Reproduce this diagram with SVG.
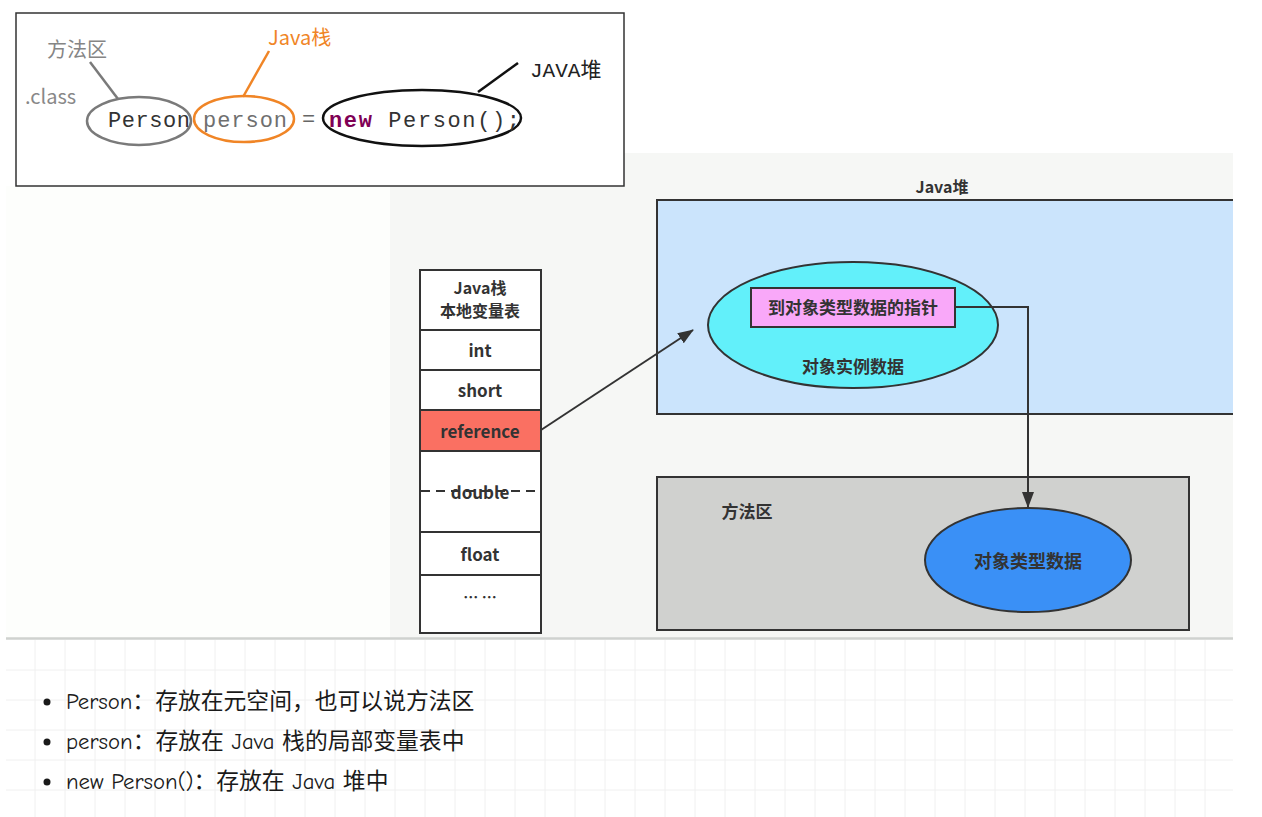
<svg xmlns="http://www.w3.org/2000/svg" width="1262" height="817" viewBox="0 0 1262 817">
<style>
.lbl{font-family:"Noto Sans CJK SC","Liberation Sans",sans-serif;font-weight:bold;fill:#333;text-anchor:middle;}
.cell{fill:#fff;stroke:#333;stroke-width:2;}
.code{font-family:"Liberation Mono","DejaVu Sans Mono",monospace;font-size:22px;}
.note{font-family:"Noto Sans CJK SC","Liberation Sans",sans-serif;font-size:20px;}
.bul{font-family:"Comic Neue","Noto Sans CJK SC","Noto Sans",sans-serif;font-size:22.8px;fill:#1a1a1a;}
.grid line{stroke:#f0f0f0;stroke-width:1;}
</style>
<defs>
<marker id="ah" viewBox="0 0 16 12" refX="15" refY="6" markerWidth="16" markerHeight="12" markerUnits="userSpaceOnUse" orient="auto">
<path d="M0,0 L16,6 L0,12 Z" fill="#333"/>
</marker>
</defs>
<rect width="1262" height="817" fill="#fff"/>
<!-- backgrounds -->
<rect x="6" y="186" width="384" height="453" fill="#fdfefc"/>
<rect x="390" y="153" width="843" height="486" fill="#f6f7f5"/>
<g class="grid">
<line x1="35" y1="640" x2="35" y2="817"/><line x1="65" y1="640" x2="65" y2="817"/><line x1="95" y1="640" x2="95" y2="817"/><line x1="125" y1="640" x2="125" y2="817"/><line x1="155" y1="640" x2="155" y2="817"/><line x1="185" y1="640" x2="185" y2="817"/><line x1="215" y1="640" x2="215" y2="817"/><line x1="245" y1="640" x2="245" y2="817"/><line x1="275" y1="640" x2="275" y2="817"/><line x1="305" y1="640" x2="305" y2="817"/><line x1="335" y1="640" x2="335" y2="817"/><line x1="365" y1="640" x2="365" y2="817"/><line x1="395" y1="640" x2="395" y2="817"/><line x1="425" y1="640" x2="425" y2="817"/><line x1="455" y1="640" x2="455" y2="817"/><line x1="485" y1="640" x2="485" y2="817"/><line x1="515" y1="640" x2="515" y2="817"/><line x1="545" y1="640" x2="545" y2="817"/><line x1="575" y1="640" x2="575" y2="817"/><line x1="605" y1="640" x2="605" y2="817"/><line x1="635" y1="640" x2="635" y2="817"/><line x1="665" y1="640" x2="665" y2="817"/><line x1="695" y1="640" x2="695" y2="817"/><line x1="725" y1="640" x2="725" y2="817"/><line x1="755" y1="640" x2="755" y2="817"/><line x1="785" y1="640" x2="785" y2="817"/><line x1="815" y1="640" x2="815" y2="817"/><line x1="845" y1="640" x2="845" y2="817"/><line x1="875" y1="640" x2="875" y2="817"/><line x1="905" y1="640" x2="905" y2="817"/><line x1="935" y1="640" x2="935" y2="817"/><line x1="965" y1="640" x2="965" y2="817"/><line x1="995" y1="640" x2="995" y2="817"/><line x1="1025" y1="640" x2="1025" y2="817"/><line x1="1055" y1="640" x2="1055" y2="817"/><line x1="1085" y1="640" x2="1085" y2="817"/><line x1="1115" y1="640" x2="1115" y2="817"/><line x1="1145" y1="640" x2="1145" y2="817"/><line x1="1175" y1="640" x2="1175" y2="817"/><line x1="1205" y1="640" x2="1205" y2="817"/>
<line x1="6" y1="670" x2="1233" y2="670"/><line x1="6" y1="700" x2="1233" y2="700"/><line x1="6" y1="730" x2="1233" y2="730"/><line x1="6" y1="760" x2="1233" y2="760"/><line x1="6" y1="790" x2="1233" y2="790"/>
</g>
<line x1="6" y1="638.5" x2="1233" y2="638.5" stroke="#cfd2cf" stroke-width="2.5"/>

<!-- top code box -->
<g id="code-box">
<rect x="16" y="13" width="608" height="173" fill="#fff" stroke="#333" stroke-width="1.5"/>
<text class="note" x="47" y="57" fill="#858585">方法区</text>
<text class="note" x="268" y="45" fill="#f08526">Java栈</text>
<text x="530" y="77" font-family="'Liberation Mono','Noto Sans CJK SC',monospace" font-size="21" fill="#222">JAVA<tspan font-family="'Noto Sans CJK SC',sans-serif">堆</tspan></text>
<text class="note" x="25" y="104" fill="#888">.class</text>
</g>
<g id="node-Person">
<ellipse cx="139" cy="121" rx="52" ry="24" fill="none" stroke="#7a7a7a" stroke-width="2.5"/>
<text class="code" x="108" y="127" fill="#333" textLength="82">Person</text>
</g>
<g id="node-person">
<ellipse cx="244" cy="119" rx="50" ry="23" fill="none" stroke="#f08526" stroke-width="2.5"/>
<text class="code" x="203" y="127" fill="#6f6f6f" textLength="84">person</text>
</g>
<text class="code" x="302" y="126" fill="#666">=</text>
<g id="node-new">
<ellipse cx="422" cy="118" rx="99" ry="28" fill="none" stroke="#111" stroke-width="2.5"/>
<text class="code" x="329" y="127" fill="#333" textLength="191"><tspan fill="#7f0055" font-weight="bold">new</tspan> Person();</text>
</g>

<!-- heap -->
<g id="java-heap">
<path d="M1233,200 H657 V414 H1233 Z" fill="#cbe4fc"/>
<path d="M1233,200 H657 V414 H1233" fill="none" stroke="#333" stroke-width="2"/>
<text class="lbl" x="942" y="193" font-size="16">Java堆</text>
</g>
<g id="instance-data">
<ellipse cx="853" cy="325" rx="145" ry="63" fill="#62f0fa" stroke="#333" stroke-width="2"/>
<text class="lbl" x="853" y="373" font-size="17">对象实例数据</text>
</g>
<g id="pointer">
<rect x="751" y="288" width="204" height="39" fill="#f9a8f9" stroke="#333" stroke-width="2"/>
<text class="lbl" x="853" y="314" font-size="17">到对象类型数据的指针</text>
</g>

<!-- method area -->
<g id="method-area">
<rect x="657" y="477" width="532" height="153" fill="#d0d1cf" stroke="#333" stroke-width="2"/>
<text class="lbl" x="747" y="518" font-size="17">方法区</text>
</g>
<g id="type-data">
<ellipse cx="1028" cy="560" rx="103" ry="52" fill="#3a90f6" stroke="#333" stroke-width="2"/>
<text class="lbl" x="1028" y="568" font-size="18">对象类型数据</text>
</g>

<!-- stack table -->
<g id="stack-header">
<rect class="cell" x="420" y="270" width="121" height="60"/>
<text class="lbl" x="480" y="294" font-size="16">Java栈</text>
<text class="lbl" x="480" y="317" font-size="16">本地变量表</text>
</g>
<g id="cell-int">
<rect class="cell" x="420" y="330" width="121" height="40"/>
<text class="lbl" x="480" y="357" font-size="17">int</text>
</g>
<g id="cell-short">
<rect class="cell" x="420" y="370" width="121" height="40"/>
<text class="lbl" x="480" y="397" font-size="17">short</text>
</g>
<g id="cell-reference">
<rect x="420" y="410" width="121" height="41" fill="#fa7062" stroke="#333" stroke-width="2"/>
<text class="lbl" x="480" y="438" font-size="17">reference</text>
</g>
<g id="cell-double">
<rect class="cell" x="420" y="451" width="121" height="81"/>
<text class="lbl" x="480" y="499" font-size="17">double</text>
<line x1="421" y1="491" x2="540" y2="491" stroke="#333" stroke-width="2" stroke-dasharray="9,6"/>
</g>
<g id="cell-float">
<rect class="cell" x="420" y="532" width="121" height="43"/>
<text class="lbl" x="480" y="561" font-size="17">float</text>
</g>
<g id="cell-more">
<rect class="cell" x="420" y="575" width="121" height="58"/>
<text class="lbl" x="480" y="603" font-size="15">… …</text>
</g>

<!-- connectors -->
<g id="connectors" fill="none">
<line x1="90" y1="62" x2="118" y2="99" stroke="#7a7a7a" stroke-width="2.5"/>
<line x1="269" y1="51" x2="243" y2="97" stroke="#f08526" stroke-width="2.5"/>
<line x1="518" y1="63" x2="478" y2="92" stroke="#111" stroke-width="2.5"/>
<line x1="541" y1="430" x2="693" y2="330" stroke="#333" stroke-width="2" marker-end="url(#ah)"/>
<polyline points="955,307 1028,307 1028,507" stroke="#333" stroke-width="2" marker-end="url(#ah)"/>
</g>

<!-- bullet list -->
<g id="notes">
<circle cx="47" cy="702" r="3.5" fill="#1a1a1a"/>
<circle cx="47" cy="742" r="3.5" fill="#1a1a1a"/>
<circle cx="47" cy="782" r="3.5" fill="#1a1a1a"/>
<text class="bul" x="66" y="709">Person：存放在元空间，也可以说方法区</text>
<text class="bul" x="66" y="749">person：存放在 Java 栈的局部变量表中</text>
<text class="bul" x="66" y="789">new Person()：存放在 Java 堆中</text>
</g>
</svg>
